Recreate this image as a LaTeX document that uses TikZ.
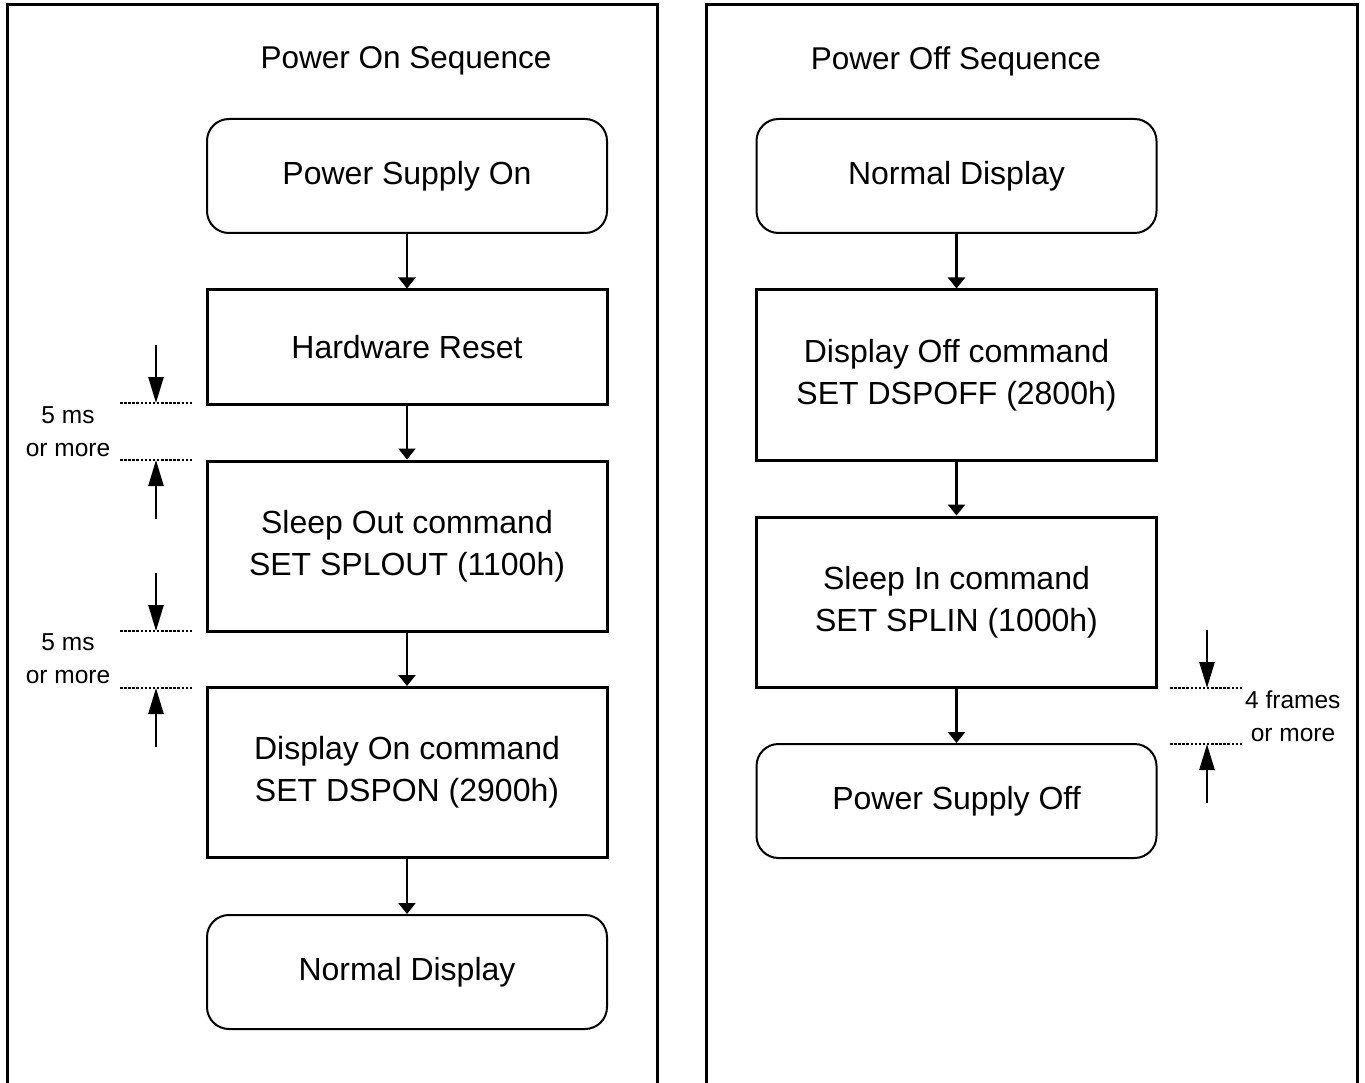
\documentclass[tikz,border=0pt]{standalone}
\usepackage{fontspec}
\setmainfont{Liberation Sans}
\usetikzlibrary{arrows.meta}
\tikzset{
  boxtext/.style={font=\fontsize{32}{42}\selectfont, align=center},
  stepbox/.style={boxtext, draw, line width=3pt, minimum width=400pt, inner sep=0pt},
  roundbox/.style={boxtext, draw, line width=2pt, rounded corners=22pt, minimum width=400pt, minimum height=114pt, inner sep=0pt},
  flow/.style={line width=2.5pt, -{Triangle[length=11pt,width=17pt]}},
  timearrow/.style={line width=2.5pt, -{Triangle[length=26pt,width=15pt]}},
  timeline/.style={line width=2pt, dash pattern=on 2.5pt off 1.6pt},
  smalltext/.style={font=\fontsize{24.5}{34}\selectfont, align=center, inner sep=0pt},
  panel/.style={line width=3pt},
  title/.style={font=\fontsize{31.5}{38}\selectfont, inner sep=0pt}
}
\begin{document}
\begin{tikzpicture}[x=1pt,y=-1pt]
\useasboundingbox (0,0) rectangle (1365,1083);
\fill[white] (0,0) rectangle (1365,1083);
% panels
\draw[panel] (7,1084) -- (7,5) -- (657,5) -- (657,1084);
\draw[panel] (706,1084) -- (706,5) -- (1357,5) -- (1357,1084);
% titles
\node[title] (t1) at (406,61) {Power On Sequence};
\node[title] (t2) at (956,61) {Power Off Sequence};
% left column
\node[roundbox] (pson) at (407,176) {Power Supply On};
\node[stepbox, minimum height=114pt] (hw) at (407,347) {Hardware Reset};
\node[stepbox, minimum height=170pt] (slo) at (407,546) {Sleep Out command\\SET SPLOUT (1100h)};
\node[stepbox, minimum height=170pt] (don) at (407,772.5) {Display On command\\SET DSPON (2900h)};
\node[roundbox] (nd1) at (407,972) {Normal Display};
\draw[flow] (pson) -- (hw);
\draw[flow] (hw) -- (slo);
\draw[flow] (slo) -- (don);
\draw[flow] (don) -- (nd1);
% right column
\node[roundbox] (nd2) at (956.5,176) {Normal Display};
\node[stepbox, minimum height=170pt] (doff) at (956.5,375) {Display Off command\\SET DSPOFF (2800h)};
\node[stepbox, minimum height=170pt] (sin) at (956.5,602) {Sleep In command\\SET SPLIN (1000h)};
\node[roundbox] (psoff) at (956.5,801) {Power Supply Off};
\draw[flow] (nd2) -- (doff);
\draw[flow] (doff) -- (sin);
\draw[flow] (sin) -- (psoff);
% timing marks, left 1
\coordinate (a1s) at (120,403); \coordinate (a1e) at (193,403);
\coordinate (b1s) at (120,460); \coordinate (b1e) at (193,460);
\coordinate (a1t) at (156,345); \coordinate (a1h) at (156,403);
\coordinate (b1t) at (156,519); \coordinate (b1h) at (156,460);
\draw[timeline] (a1s) -- (a1e);
\draw[timeline] (b1s) -- (b1e);
\draw[timearrow] (a1t) -- (a1h);
\draw[timearrow] (b1t) -- (b1h);
\node[smalltext] (l1a) at (68,415) {5 ms};
\node[smalltext] (l1b) at (68,450) {or more};
% timing marks, left 2
\coordinate (a2s) at (120,631); \coordinate (a2e) at (193,631);
\coordinate (b2s) at (120,688); \coordinate (b2e) at (193,688);
\coordinate (a2t) at (156,573); \coordinate (a2h) at (156,631);
\coordinate (b2t) at (156,747); \coordinate (b2h) at (156,688);
\draw[timeline] (a2s) -- (a2e);
\draw[timeline] (b2s) -- (b2e);
\draw[timearrow] (a2t) -- (a2h);
\draw[timearrow] (b2t) -- (b2h);
\node[smalltext] (l2a) at (68,642) {5 ms};
\node[smalltext] (l2b) at (68,677) {or more};
% timing marks, right
\coordinate (a3s) at (1170,688); \coordinate (a3e) at (1243,688);
\coordinate (b3s) at (1170,744); \coordinate (b3e) at (1243,744);
\coordinate (a3t) at (1207,630); \coordinate (a3h) at (1207,688);
\coordinate (b3t) at (1207,803); \coordinate (b3h) at (1207,744);
\draw[timeline] (a3s) -- (a3e);
\draw[timeline] (b3s) -- (b3e);
\draw[timearrow] (a3t) -- (a3h);
\draw[timearrow] (b3t) -- (b3h);
\node[smalltext, anchor=west] (l3a) at (1245,700) {4 frames};
\node[smalltext] (l3b) at (1293,735) {or more};
\end{tikzpicture}
\end{document}
